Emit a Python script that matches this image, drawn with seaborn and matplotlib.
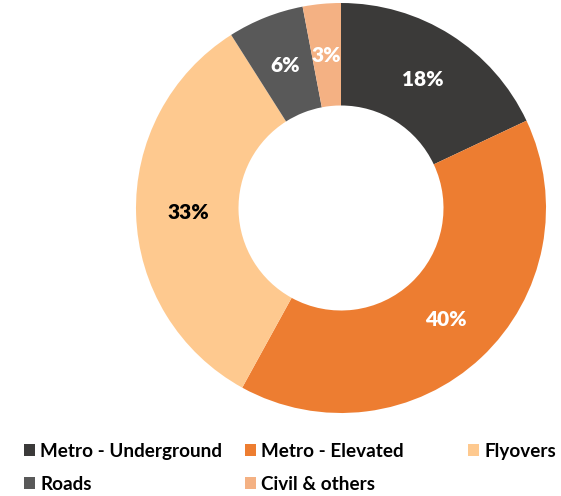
import matplotlib
matplotlib.use("Agg")
import matplotlib.pyplot as plt
import seaborn as sns
from matplotlib.patches import Patch

sns.set_theme(style="white")
plt.rcParams["font.family"] = ["Lato", "DejaVu Sans"]

# Segment shares (%), clockwise from 12 o'clock
categories = ["Metro - Underground", "Metro - Elevated", "Flyovers", "Roads", "Civil & others"]
shares = [18, 40, 33, 6, 3]
colors = sns.color_palette(["#3b3a39", "#ed7d31", "#fec98f", "#595959", "#f4b183"])
label_colors = ["white", "white", "black", "white", "white"]

W, H = 561, 496
fig = plt.figure(figsize=(W / 100, H / 100), dpi=100)

# donut axes: centre (341, 208) px, outer radius 205 px
cx, cy, r = 341, 208, 205
ax = fig.add_axes([(cx - r) / W, 1 - (cy + r) / H, 2 * r / W, 2 * r / H])
wedges, texts = ax.pie(
    shares,
    colors=colors,
    startangle=90,
    counterclock=False,
    radius=1.0,
    labels=[f"{v}%" for v in shares],
    labeldistance=0.745,
    wedgeprops=dict(width=0.5, linewidth=0),
    textprops=dict(fontsize=15, fontweight="heavy"),
)
for t, c in zip(texts, label_colors):
    t.set_color(c)
    t.set_ha("center")
    t.set_va("center")
ax.set_xlim(-1, 1)
ax.set_ylim(-1, 1)
ax.set_aspect("equal")
ax.axis("off")

# legend laid out in three columns, two rows
handles = [Patch(facecolor=c, edgecolor="none") for c in colors]
columns = [[0, 3], [1, 4], [2]]
col_x = [24, 245, 468]
for idx, x in zip(columns, col_x):
    leg = fig.legend(
        [handles[i] for i in idx],
        [categories[i] for i in idx],
        loc="upper left",
        bbox_to_anchor=(x / W, 1 - 443 / H),
        frameon=False,
        prop=dict(weight="bold", size=13.6),
        handlelength=0.58,
        handleheight=0.58,
        handletextpad=0.27,
        labelspacing=0.83,
        borderpad=0,
        borderaxespad=0,
    )
    for txt in leg.get_texts():
        txt.set_color("black")

fig.savefig("out.png", dpi=100)
